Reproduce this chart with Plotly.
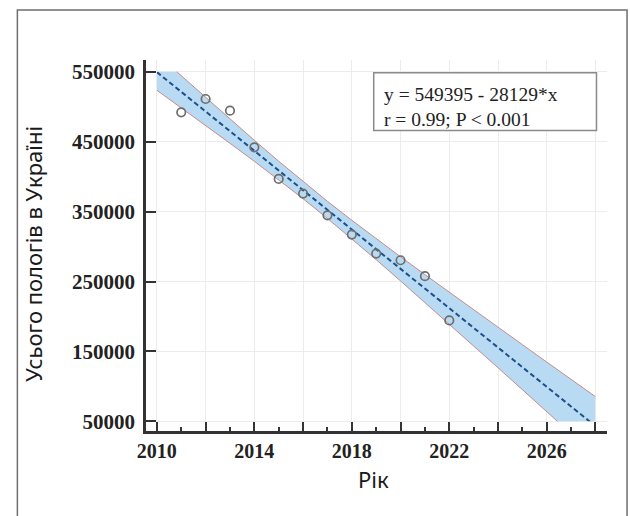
import plotly.graph_objects as go

# ---------------- data ----------------
years = [2011, 2012, 2013, 2014, 2015, 2016, 2017, 2018, 2019, 2020, 2021, 2022]
births = [491900, 511000, 494300, 441900, 396700, 375700, 344700, 317100, 290000, 280400, 257600, 194300]

fit_years = [2010, 2028]
fit_values = [549395, 43073]

band_years = [2010, 2011, 2012, 2013, 2014, 2015, 2016, 2017, 2018, 2019,
              2020, 2021, 2022, 2023, 2024, 2025, 2026, 2027, 2028]
band_upper = [575200, 544100, 513000, 482300, 451900, 422000, 392900, 364700, 337600, 311200,
              285400, 259900, 234600, 209600, 184600, 159700, 134800, 110000, 85300]
band_lower = [523500, 498500, 473200, 447700, 421900, 395600, 368400, 340200, 311200, 281200,
              250800, 220100, 189000, 157900, 126600, 95300, 63800, 32400, 900]

x_tick_vals = [2010, 2012, 2014, 2016, 2018, 2020, 2022, 2024, 2026, 2028]
x_tick_text = ["2010", "", "2014", "", "2018", "", "2022", "", "2026", ""]
y_tick_vals = [50000, 150000, 250000, 350000, 450000, 550000]
y_tick_text = ["50000", "150000", "250000", "350000", "450000", "550000"]

eq_line1 = "y = 549395 - 28129*x"
eq_line2 = "r = 0.99; P < 0.001"
x_title = "Рік"
y_title = "Усього пологів в Україні"

# ---------------- layout geometry (pixels) ----------------
W, H = 630, 516
def px(x):
    return x / W
def py(y):
    return 1 - y / H

serif = "Liberation Serif, Times New Roman, serif"
sans = "Noto Sans, Open Sans, sans-serif"
axis_col = "#333333"

fig = go.Figure()

# invisible trace so the decorative (offset) axes subplot is drawn
fig.add_trace(go.Scatter(x=[x_tick_vals[0]], y=[y_tick_vals[0]], mode="markers",
                         marker=dict(opacity=0), xaxis="x", yaxis="y", hoverinfo="skip"))

# confidence band
fig.add_trace(go.Scatter(x=band_years, y=band_lower, mode="lines",
                         line=dict(color="rgb(196,140,140)", width=1),
                         xaxis="x2", yaxis="y2", hoverinfo="skip"))
fig.add_trace(go.Scatter(x=band_years, y=band_upper, mode="lines",
                         line=dict(color="rgb(196,140,140)", width=1),
                         fill="tonexty", fillcolor="rgb(184,218,242)",
                         xaxis="x2", yaxis="y2", hoverinfo="skip"))
# regression line
fig.add_trace(go.Scatter(x=fit_years, y=fit_values, mode="lines",
                         line=dict(color="#1f4f8a", width=2, dash="5px,3px"),
                         xaxis="x2", yaxis="y2"))
# observed points
fig.add_trace(go.Scatter(x=years, y=births, mode="markers",
                         marker=dict(symbol="circle-open", size=8.5, color="#6e6e6e",
                                     line=dict(color="#6e6e6e", width=1.7)),
                         xaxis="x2", yaxis="y2"))

# decorative axes (offset from data area)
x_lo = 2010 - 11 / 24.72
x_hi = 2028 + 12 / 24.72
y_per = 0.000702
y_lo = 50000 - 10 / y_per
y_hi = 550000 + 12 / y_per

x_tick_font = dict(family=serif, size=20, color="#222", weight="bold")
y_tick_font = dict(family=serif, size=21, color="#222", weight="bold")

fig.update_layout(
    width=W, height=H,
    margin=dict(l=0, r=0, t=0, b=0),
    paper_bgcolor="white",
    plot_bgcolor="rgba(0,0,0,0)",
    showlegend=False,
    hovermode=False,
    xaxis=dict(domain=[px(139), px(607)], range=[x_lo, x_hi], anchor="y",
               showline=True, linewidth=2.5, linecolor=axis_col,
               ticks="inside", ticklen=10, tickwidth=1.5, tickcolor=axis_col,
               tickmode="array", tickvals=x_tick_vals, ticktext=x_tick_text,
               tickfont=x_tick_font,
               showgrid=True, gridcolor="#ececec", gridwidth=1, zeroline=False,
               minor=dict(tickmode="linear", tick0=2010, dtick=1, ticks="inside",
                          ticklen=5, tickwidth=1.5, tickcolor=axis_col, showgrid=False)),
    yaxis=dict(domain=[py(433), py(60)], range=[y_lo, y_hi], anchor="x",
               showline=True, linewidth=2.5, linecolor=axis_col,
               ticks="inside", ticklen=10, tickwidth=1.5, tickcolor=axis_col,
               tickmode="array", tickvals=y_tick_vals, ticktext=y_tick_text,
               tickfont=y_tick_font, ticklabelstandoff=4,
               showgrid=True, gridcolor="#ececec", gridwidth=1, zeroline=False),
    xaxis2=dict(domain=[px(150), px(595)], range=[2010, 2028], anchor="y2",
                visible=False, showgrid=False, zeroline=False),
    yaxis2=dict(domain=[py(423), py(72)], range=[50000, 550000], anchor="x2",
                visible=False, showgrid=False, zeroline=False),
)

# outer frame and equation box
fig.add_shape(type="rect", xref="paper", yref="paper",
              x0=px(8.5), x1=px(627), y0=py(530), y1=py(10),
              line=dict(color="#6e6e6e", width=1.5), fillcolor="rgba(0,0,0,0)")
fig.add_shape(type="rect", xref="paper", yref="paper",
              x0=px(370), x1=px(596), y0=py(131), y1=py(73),
              line=dict(color="#8a8a8a", width=1.5), fillcolor="white")

fig.add_annotation(x=px(378), y=py(107), xref="paper", yref="paper",
                   text=eq_line1 + "<br>" + eq_line2, showarrow=False,
                   xanchor="left", yanchor="middle", align="left",
                   font=dict(family=serif, size=19.5, color="#222"))

fig.add_annotation(x=px(370), y=py(481), xref="paper", yref="paper",
                   text=x_title, showarrow=False, xanchor="center", yanchor="middle",
                   font=dict(family=sans, size=22, color="#1a1a1a"))
fig.add_annotation(x=px(24), y=py(255), xref="paper", yref="paper",
                   text=y_title, showarrow=False, textangle=-90,
                   xanchor="center", yanchor="middle",
                   font=dict(family=sans, size=22, color="#1a1a1a"))

fig.write_html("out.html")
